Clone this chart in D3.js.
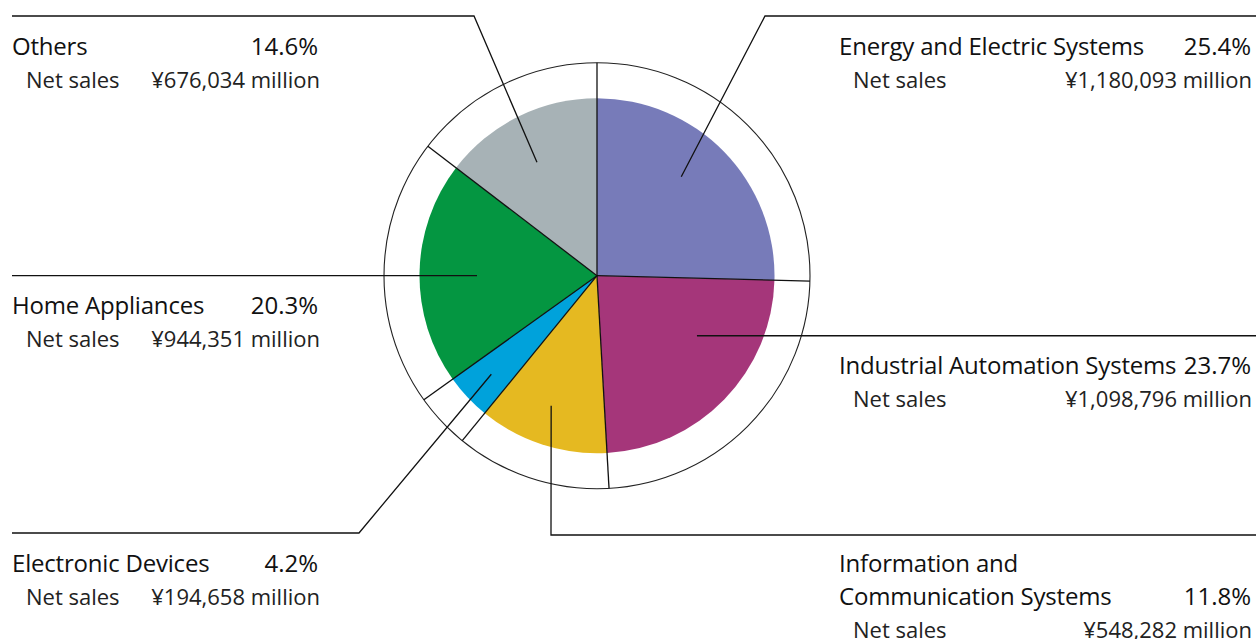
<!DOCTYPE html>
<html>
<head>
<meta charset="utf-8">
<script src="https://cdn.jsdelivr.net/npm/d3@7"></script>
<style>
  html, body { margin: 0; padding: 0; background: #fff; }
  svg { display: block; }
  text { font-family: "Open Sans", "Noto Sans", sans-serif; fill: #111; }
</style>
</head>
<body>
<div id="chart"></div>
<script>
// segment data, clockwise from 12 o'clock
const segments = ['Energy and Electric Systems', 'Industrial Automation Systems',
  'Information and Communication Systems', 'Electronic Devices', 'Home Appliances', 'Others'];
const shares = [25.4, 23.7, 11.8, 4.2, 20.3, 14.6];
const netSales = ['¥1,180,093 million', '¥1,098,796 million', '¥548,282 million',
  '¥194,658 million', '¥944,351 million', '¥676,034 million'];
const colors = ['#777bb9', '#a5367a', '#e5b921', '#00a2db', '#049641', '#a7b2b6'];

// label layout (title lines, side, leader anchor and elbow)
const labelLayout = [
  { lines: ['Energy and Electric Systems'], side: 'right', y: 55, anchor: [40.4, 130], elbow: [765, 16], lineY: 16 },
  { lines: ['Industrial Automation Systems'], side: 'right', y: 374, anchor: [121, 116.6], elbow: null, lineY: null },
  { lines: ['Information and', 'Communication Systems'], side: 'right', y: 572, anchor: [199.4, 138], elbow: [551, 535], lineY: 535 },
  { lines: ['Electronic Devices'], side: 'left', y: 572, anchor: [227, 144.5], elbow: [359, 533], lineY: 533 },
  { lines: ['Home Appliances'], side: 'left', y: 314, anchor: [270, 120], elbow: null, lineY: null },
  { lines: ['Others'], side: 'left', y: 55, anchor: [332.1, 128.3], elbow: [474, 16], lineY: 16 }
];

const width = 1256, height = 639;
const cx = 597, cy = 275.7;
const innerR = 177.5, outerR = 213;
const titleSize = 24, subSize = 22, lineGap = 33;

const svg = d3.select('#chart').append('svg')
  .attr('width', width)
  .attr('height', height);

const g = svg.append('g').attr('transform', `translate(${cx},${cy})`);

const pie = d3.pie().sort(null).value(d => d.share);
const data = segments.map((name, i) => ({ name, share: shares[i], sales: netSales[i], color: colors[i], layout: labelLayout[i] }));
const arcs = pie(data);

const arc = d3.arc().innerRadius(0).outerRadius(innerR);

g.selectAll('path.slice')
  .data(arcs)
  .enter()
  .append('path')
  .attr('class', 'slice')
  .attr('d', arc)
  .attr('fill', d => d.data.color);

// outer ring
g.append('circle')
  .attr('r', outerR)
  .attr('fill', 'none')
  .attr('stroke', '#222')
  .attr('stroke-width', 1.1);

// dividers from the center out to the ring
g.selectAll('line.divider')
  .data(arcs)
  .enter()
  .append('line')
  .attr('class', 'divider')
  .attr('x1', 0).attr('y1', 0)
  .attr('x2', d => d3.pointRadial(d.startAngle, outerR)[0])
  .attr('y2', d => d3.pointRadial(d.startAngle, outerR)[1])
  .attr('stroke', '#111')
  .attr('stroke-width', 1.3);

// leader lines
const leaderPoints = d => {
  const L = d.data.layout;
  const p = d3.pointRadial(L.anchor[0] * Math.PI / 180, L.anchor[1]);
  const a = [cx + p[0], cy + p[1]];
  const edge = L.side === 'right' ? width : 12;
  if (!L.elbow) return [a, [edge, a[1]]];
  return [a, L.elbow, [edge, L.lineY]];
};

svg.selectAll('path.leader')
  .data(arcs)
  .enter()
  .append('path')
  .attr('class', 'leader')
  .attr('d', d => d3.line()(leaderPoints(d)))
  .attr('fill', 'none')
  .attr('stroke', '#111')
  .attr('stroke-width', 1.3);

// labels
arcs.forEach(d => {
  const L = d.data.layout;
  const left = L.side === 'right' ? 839 : 12;
  const pctRight = L.side === 'right' ? 1251 : 318;
  const subLeft = L.side === 'right' ? 853 : 26;
  const subRight = L.side === 'right' ? 1252 : 320;
  const lbl = svg.append('g').attr('class', 'label');

  L.lines.forEach((t, k) => {
    lbl.append('text')
      .attr('x', left)
      .attr('y', L.y + k * lineGap)
      .style('font-size', titleSize + 'px')
      .style('letter-spacing', '-0.2px')
      .text(t);
  });
  const lastY = L.y + (L.lines.length - 1) * lineGap;
  lbl.append('text')
    .attr('x', pctRight)
    .attr('y', lastY)
    .attr('text-anchor', 'end')
    .style('font-size', titleSize + 'px')
    .text(d3.format('.1f')(d.data.share) + '%');

  const subY = lastY + 32.5;
  lbl.append('text')
    .attr('x', subLeft)
    .attr('y', subY)
    .style('font-size', subSize + 'px')
    .style('fill', '#222')
    .text('Net sales');
  lbl.append('text')
    .attr('x', subRight)
    .attr('y', subY)
    .attr('text-anchor', 'end')
    .style('font-size', subSize + 'px')
    .style('fill', '#222')
    .text(d.data.sales);
});
</script>
</body>
</html>
